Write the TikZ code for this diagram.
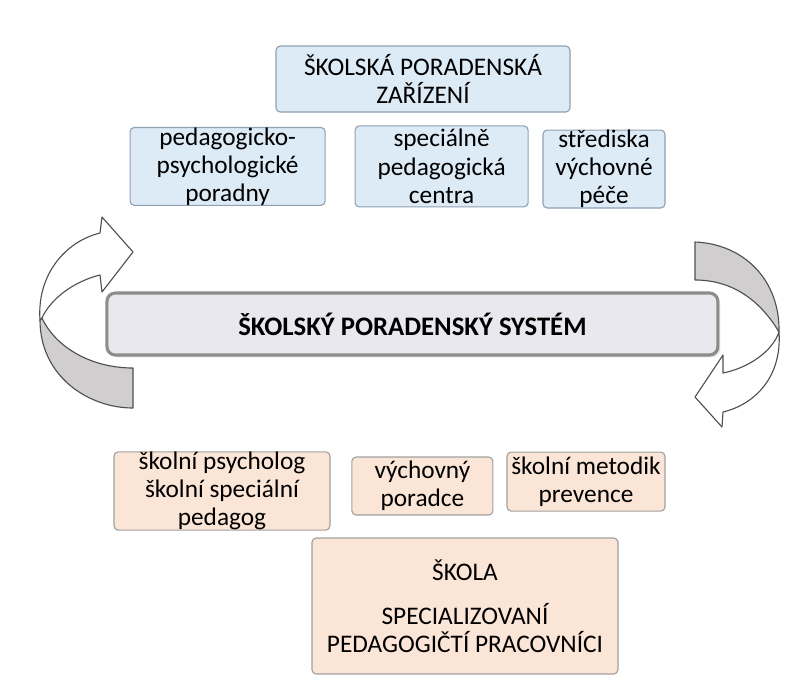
\documentclass[tikz,border=0pt]{standalone}
\usepackage{fontspec}
\setmainfont{Carlito}
\usetikzlibrary{positioning, shadows}

\definecolor{zarfill}{HTML}{DDEBF7}
\definecolor{zarline}{HTML}{8FA1B3}
\definecolor{sklfill}{HTML}{FBE5D6}
\definecolor{sklline}{HTML}{A0A0A0}
\definecolor{sysfill}{HTML}{E8E8EE}
\definecolor{sysline}{HTML}{8C8C8C}
\definecolor{arrgrey}{HTML}{D0CECE}
\definecolor{arrline}{HTML}{505050}

\begin{document}
\begin{tikzpicture}[
  zar/.style={rectangle,rounded corners=3pt,fill=zarfill,draw=zarline,line width=0.8pt,inner sep=0pt,align=center,font=\fontsize{18}{20}\selectfont},
  skl/.style={rectangle,rounded corners=3pt,fill=sklfill,draw=sklline,line width=0.8pt,inner sep=0pt,align=center,font=\fontsize{18}{20}\selectfont},
  sys/.style={rectangle,rounded corners=6pt,fill=sysfill,draw=sysline,line width=2.2pt,inner sep=0pt,font=\bfseries\fontsize{19}{22}\selectfont,drop shadow={opacity=0.2,shadow xshift=0.06,shadow yshift=-0.06}},
  arr/.style={draw=arrline,line width=0.8pt,line join=round}
]
  \useasboundingbox (0,0) rectangle (20,-17.05);

  % ohnuté šipky po stranách
  \draw[arr,fill=arrgrey] (1.0,-8.0) .. controls (1.0,-9.4) and (2.2,-10.2) .. (3.325,-10.2)
    -- (3.325,-9.2) .. controls (2.3,-9.2) and (1.4,-8.7) .. (1.05,-7.95) -- cycle;
  \draw[arr,fill=white] (1.0,-8.0) .. controls (0.92,-6.9) and (1.6,-6.05) .. (2.5,-5.825)
    -- (2.55,-5.425) -- (3.325,-6.3) -- (2.55,-7.3) -- (2.5,-6.875)
    .. controls (1.8,-7.05) and (1.25,-7.5) .. (1.05,-7.95) -- cycle;

  \draw[arr,fill=arrgrey] (17.375,-6.05) .. controls (18.6,-6.1) and (19.5,-7.0) .. (19.475,-8.3)
    .. controls (19.0,-7.5) and (18.3,-7.0) .. (17.375,-7.0) -- cycle;
  \draw[arr,fill=white] (19.475,-8.3) .. controls (19.55,-9.4) and (18.9,-10.1) .. (18.075,-10.3)
    -- (18.05,-10.675) -- (17.375,-9.925) -- (18.075,-8.875) -- (18.075,-9.325)
    .. controls (18.7,-9.2) and (19.3,-8.8) .. (19.475,-8.3) -- cycle;

  % poradenská zařízení
  \node[zar,minimum width=7.35cm,minimum height=1.65cm] (Z0) at (10.575,-1.975) {ŠKOLSKÁ PORADENSKÁ\\ZAŘÍZENÍ};
  \node[zar,minimum width=4.875cm,minimum height=1.925cm] (Z1) at (5.69,-4.16) {pedagogicko-\\psychologické\\poradny};
  \node[zar,minimum width=4.325cm,minimum height=2.025cm] (Z2) at (11.04,-4.16) {speciálně\\pedagogická\\centra};
  \node[zar,minimum width=3.05cm,minimum height=1.9cm] (Z3) at (15.1,-4.225) {střediska\\výchovné\\péče};

  % systém
  \node[sys,minimum width=15.275cm,minimum height=1.55cm] (SYS) at (10.31,-8.1) {ŠKOLSKÝ PORADENSKÝ SYSTÉM};

  % škola
  \node[skl,minimum width=5.4cm,minimum height=1.8cm] (S1) at (5.55,-12.275) {školní psycholog\\školní speciální\\pedagog};
  \node[skl,minimum width=3.525cm,minimum height=1.45cm] (S2) at (10.56,-12.15) {výchovný\\poradce};
  \node[skl,minimum width=3.95cm,minimum height=1.475cm] (S3) at (14.65,-12.04) {školní metodik\\prevence};
  \node[skl,minimum width=7.65cm,minimum height=3.4cm] (S0) at (11.625,-15.15) {ŠKOLA\\[11pt]SPECIALIZOVANÍ\\PEDAGOGIČTÍ PRACOVNÍCI};
\end{tikzpicture}
\end{document}
